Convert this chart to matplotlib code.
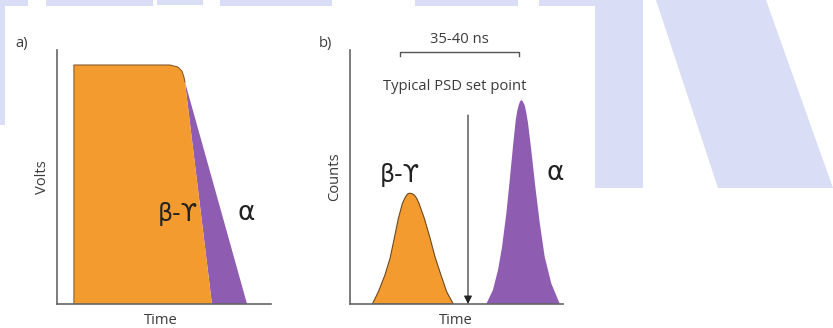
import matplotlib
matplotlib.use("Agg")
import matplotlib.pyplot as plt
from matplotlib.patches import Polygon

plt.rcParams['font.family'] = ['Open Sans', 'DejaVu Sans']

W, H = 833, 328
ORANGE = '#f49b30'
PURPLE = '#8e5cb0'
TEXT = '#3a3a3a'
AXIS = '#666666'
FS = 10.6

# panel a: pulse shapes (time vs volts, arbitrary units 0-100)
beta_t = [7.9, 7.9, 52.8, 56.5, 58.4, 59.3, 59.8, 72.4]
beta_v = [0, 94.1, 94.1, 93.3, 91.7, 89.4, 87.4, 0]
alpha_t = [59.8, 88.8]
alpha_v = [87.4, 0]

# panel b: PSD histograms (time vs counts, arbitrary units 0-100)
bg_t = [10.5, 13.3, 16.4, 18.8, 20.8, 22.7, 24.6, 25.7, 26.6, 27.4, 28.2, 29.2, 30.2, 31.3,
        32.4, 34.9, 37.6, 39.9, 42.7, 45.4, 48.5]
bg_c = [0, 4.8, 11.4, 18.0, 25.9, 33.7, 39.6, 41.6, 42.9, 43.5, 43.6, 43.4, 42.9, 41.6,
        39.6, 33.7, 25.9, 18.6, 11.4, 4.8, 0]
al_t = [64.0, 67.1, 69.5, 71.4, 73.4, 75.0, 76.5, 77.8, 78.5, 79.2, 79.8, 80.4, 81.1, 82.0,
        82.8, 83.6, 85.1, 87.0, 89.1, 91.4, 94.5, 98.5]
al_c = [0, 5.5, 13.4, 22.6, 35.7, 48.8, 61.9, 72.4, 75.9, 78.3, 79.7, 80.3, 79.8, 78.3,
        75.2, 71.1, 60.6, 46.2, 31.8, 18.6, 8.1, 0]
psd_point = 55.4
window = [23.5, 79.3]

fig = plt.figure(figsize=(W / 100, H / 100), dpi=100)

# light watermark shapes behind everything (pixel coords, top origin)
wm = [
    [(0, 0), (28, 0), (28, 6), (0, 6)],
    [(0, 0), (5, 0), (5, 125), (0, 125)],
    [(46, 0), (153, 0), (153, 6), (46, 6)],
    [(157, 0), (203, 0), (203, 5), (157, 5)],
    [(220, 0), (332, 0), (332, 6), (220, 6)],
    [(415, 0), (518, 0), (518, 6), (415, 6)],
    [(539, 0), (595, 0), (595, 6), (539, 6)],
    [(595, 0), (643, 0), (643, 188), (595, 188)],
    [(656, 0), (766, 0), (833, 188), (718, 188)],
]
for pts in wm:
    fig.add_artist(Polygon([(x / W, 1 - y / H) for x, y in pts], closed=True,
                           transform=fig.transFigure, facecolor='#d9def6',
                           edgecolor='none', zorder=-10))


def make_axes(left, right, top, bottom):
    ax = fig.add_axes([left / W, 1 - bottom / H, (right - left) / W, (bottom - top) / H])
    ax.set_xlim(0, 100)
    ax.set_ylim(0, 100)
    ax.patch.set_alpha(0)
    for s in ['top', 'right']:
        ax.spines[s].set_visible(False)
    for s in ['left', 'bottom']:
        ax.spines[s].set_color(AXIS)
        ax.spines[s].set_linewidth(1.2)
    ax.set_xticks([])
    ax.set_yticks([])
    return ax


greek = dict(color='#222222', ha='center', va='center', family='DejaVu Sans')

# ---- panel a ----
ax1 = make_axes(57, 271, 50, 304)
ax1.fill(alpha_t + [beta_t[-1]], alpha_v + [beta_v[-1]], color=PURPLE, lw=0)
ax1.fill(beta_t, beta_v, color=ORANGE, lw=0)
ax1.plot(beta_t[:-1], beta_v[:-1], color='#7a4f22', lw=0.7)
ax1.text(56.5, 35.4, 'β-ϒ', fontsize=17, **greek)
ax1.text(88.3, 35.8, 'α', fontsize=19, **greek)
ax1.set_xlabel('Time', fontsize=FS, color=TEXT, va='center')
ax1.xaxis.set_label_coords(0.486, -0.063)
ax1.set_ylabel('Volts', fontsize=FS, color=TEXT, va='center')
ax1.yaxis.set_label_coords(-0.07, 0.5)
fig.text(22 / W, 1 - 44 / H, 'a)', fontsize=FS, color=TEXT, ha='center', va='center')

# ---- panel b ----
ax2 = make_axes(350, 563, 50, 304)
ax2.fill(bg_t, bg_c, facecolor=ORANGE, edgecolor='#6b4a20', lw=0.8)
ax2.fill(al_t, al_c, color=PURPLE, lw=0)
ax2.annotate('', xy=(psd_point, 0), xytext=(psd_point, 74.4),
             arrowprops=dict(arrowstyle='-|>', color='#222222', lw=0.8, mutation_scale=12,
                             shrinkA=0, shrinkB=0))
ax2.text(49.3, 85.8, 'Typical PSD set point', fontsize=FS, color=TEXT, ha='center', va='center')
ax2.plot([window[0], window[0], window[1], window[1]], [97.6, 99.2, 99.2, 97.6],
         color='#555555', lw=1, clip_on=False)
ax2.text(sum(window) / 2, 104.2, '35-40 ns', fontsize=FS, color=TEXT, ha='center', va='center',
         clip_on=False)
ax2.text(23.5, 50.8, 'β-ϒ', fontsize=17, **greek)
ax2.text(96.2, 51.6, 'α', fontsize=19, **greek)
ax2.set_xlabel('Time', fontsize=FS, color=TEXT, va='center')
ax2.xaxis.set_label_coords(0.498, -0.063)
ax2.set_ylabel('Counts', fontsize=FS, color=TEXT, va='center')
ax2.yaxis.set_label_coords(-0.07, 0.5)
fig.text(325 / W, 1 - 44 / H, 'b)', fontsize=FS, color=TEXT, ha='center', va='center')

fig.savefig('out.png', dpi=100)
